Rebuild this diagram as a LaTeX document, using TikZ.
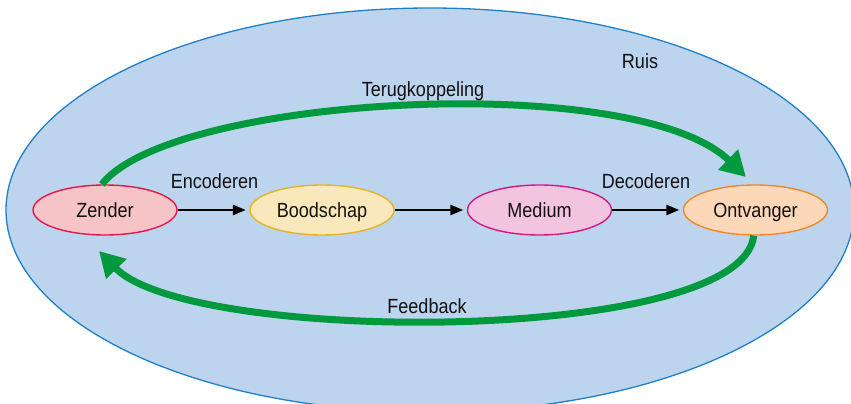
\documentclass[tikz,border=0pt]{standalone}
\usepackage{fontspec}
\setmainfont{Liberation Sans}[FakeStretch=0.88]
\usetikzlibrary{arrows.meta,shapes.geometric}
\definecolor{bgfill}{HTML}{BDD4EE}
\definecolor{bgline}{HTML}{1E80C8}
\definecolor{grn}{HTML}{009A3E}
\definecolor{txt}{HTML}{111111}
\definecolor{zfill}{HTML}{F6C4C6}\definecolor{zline}{HTML}{E0184C}
\definecolor{bfill}{HTML}{F8E8BC}\definecolor{bline}{HTML}{E6B422}
\definecolor{mfill}{HTML}{F2C4E0}\definecolor{mline}{HTML}{D4187E}
\definecolor{ofill}{HTML}{FDD8B8}\definecolor{oline}{HTML}{F08A26}
\tikzset{
  stage/.style={ellipse, draw, line width=1.4pt, minimum width=144pt, minimum height=50pt,
    inner sep=0pt, text height=14.8pt, text depth=0pt, font=\fontsize{20.5}{24}\selectfont, text=txt},
  lbl/.style={font=\fontsize{20.5}{24}\selectfont, text=txt, anchor=base, inner sep=0pt},
  flow/.style={line width=2.6pt, -{Triangle[length=13pt,width=10pt]}, shorten >=3.5pt},
  loop/.style={draw=grn, line width=7pt, -{Triangle[length=25pt,width=27pt]}, color=grn}
}
\begin{document}
\begin{tikzpicture}[x=1pt,y=-1pt]
\useasboundingbox (0,0) rectangle (851,404);
\begin{scope}
\clip (0,0) rectangle (851,404);
\node[ellipse, fill=bgfill, draw=bgline, line width=1.3pt, minimum width=848pt, minimum height=404pt, inner sep=0pt] (ruis) at (430,210) {};
\end{scope}
\node[stage, fill=zfill, draw=zline] (zender) at (105,210) {Zender};
\node[stage, fill=bfill, draw=bline] (boodschap) at (322,210) {Boodschap};
\node[stage, fill=mfill, draw=mline] (medium) at (539.5,210) {Medium};
\node[stage, fill=ofill, draw=oline] (ontvanger) at (755.5,210) {Ontvanger};
\draw[flow] (zender) -- (boodschap);
\draw[flow] (boodschap) -- (medium);
\draw[flow] (medium) -- (ontvanger);
\coordinate (tktip) at (746,177);
\coordinate (fbtip) at (99,251);
\draw[loop] (zender.97) .. controls (172,95) and (636,70) .. (tktip);
\draw[loop] (ontvanger.266) .. controls (742,345) and (190,345) .. (fbtip);
\node[lbl] (enc) at (214.5,188) {Encoderen};
\node[lbl] (dec) at (646,188) {Decoderen};
\node[lbl] (tk) at (423,96) {Terugkoppeling};
\node[lbl] (fb) at (427,313) {Feedback};
\node[lbl] (rs) at (640,68) {Ruis};
\end{tikzpicture}
\end{document}
